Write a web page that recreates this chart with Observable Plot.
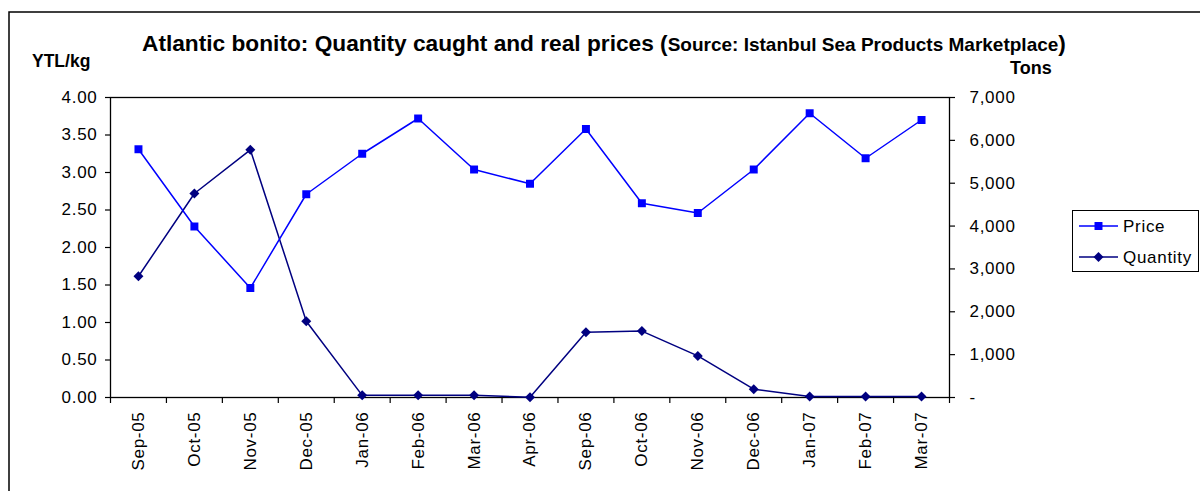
<!DOCTYPE html>
<html><head><meta charset="utf-8">
<script src="https://cdn.jsdelivr.net/npm/d3@7"></script>
<script src="https://cdn.jsdelivr.net/npm/@observablehq/plot@0.6"></script>
<style>body{margin:0;background:#fff} svg{display:block}</style>
</head><body><div id="chart"></div>
<script>
const months = ["Sep-05","Oct-05","Nov-05","Dec-05","Jan-06","Feb-06","Mar-06","Apr-06","Sep-06","Oct-06","Nov-06","Dec-06","Jan-07","Feb-07","Mar-07"];
const price = [3.31,2.28,1.46,2.71,3.25,3.72,3.04,2.85,3.58,2.59,2.46,3.04,3.79,3.19,3.70];
const quantity = [2830,4760,5780,1780,50,50,50,5,1520,1550,970,195,25,25,25];
const priceTicks = [0,0.5,1,1.5,2,2.5,3,3.5,4];
const quantityTicks = [0,1000,2000,3000,4000,5000,6000,7000];
const seriesNames = ["Price","Quantity"];
const titleMain = "Atlantic bonito: Quantity caught and real prices (";
const titleSource = "Source: Istanbul Sea Products Marketplace";
const leftLabel = "YTL/kg";
const rightLabel = "Tons";

const priceMax = 4, quantityMax = 7000;
const k = priceMax / quantityMax;
const priceColor = "#0000FF", qtyColor = "#000080";
const rows = months.map((m, i) => ({m, x: i + 0.5, price: price[i], q: quantity[i] * k}));
const fontFamily = "'Liberation Sans', Arial, sans-serif";

const chart = Plot.plot({
  width: 1200, height: 491,
  marginLeft: 110, marginRight: 251, marginTop: 97, marginBottom: 94,
  style: {fontFamily, fontSize: "17px", letterSpacing: "0.7px", color: "black", background: "white", overflow: "visible"},
  x: {type: "linear", domain: [0, months.length]},
  y: {domain: [0, priceMax]},
  marks: [
    Plot.frame({stroke: "black", strokeWidth: 1.3}),
    Plot.axisY(priceTicks, {anchor: "left", tickSize: 5, tickPadding: 8, tickFormat: d3.format(".2f"), label: null, strokeWidth: 1.2}),
    Plot.axisY(quantityTicks.map(v => v * k), {anchor: "right", tickSize: 5, tickPadding: 15, label: null, strokeWidth: 1.2,
      tickFormat: v => { const t = Math.round(v / k); return t === 0 ? "-" : d3.format(",")(t); }}),
    Plot.axisX(d3.range(months.length + 1), {anchor: "bottom", tickSize: 6, tickFormat: () => "", label: null, strokeWidth: 1.2}),
    Plot.axisX(rows.map(d => d.x), {anchor: "bottom", tickSize: 0, tickPadding: 14, tickRotate: -90,
      tickFormat: v => months[Math.floor(v)], label: null}),
    Plot.line(rows, {x: "x", y: "q", stroke: qtyColor, strokeWidth: 1.5}),
    Plot.dot(rows, {x: "x", y: "q", symbol: "diamond2", r: 4.5, fill: qtyColor, stroke: "none"}),
    Plot.line(rows, {x: "x", y: "price", stroke: priceColor, strokeWidth: 1.5}),
    Plot.dot(rows, {x: "x", y: "price", symbol: "square", r: 4.5, fill: priceColor, stroke: "none"})
  ]
});
document.getElementById("chart").appendChild(chart);

const svg = d3.select(chart);
svg.insert("rect", ":first-child").attr("x", 9).attr("y", 12).attr("width", 1200).attr("height", 500)
  .attr("fill", "none").attr("stroke", "black").attr("stroke-width", 1.5);

const t = svg.append("text").attr("x", 142).attr("y", 51).attr("font-weight", "bold").attr("font-size", 22.7)
  .attr("text-anchor", "start").attr("letter-spacing", 0)
  .attr("fill", "black").attr("font-family", fontFamily);
t.append("tspan").text(titleMain);
t.append("tspan").attr("font-size", 19).text(titleSource);
t.append("tspan").text(")");

svg.append("text").attr("x", 32).attr("y", 67).attr("font-weight", "bold").attr("font-size", 17.5)
  .attr("text-anchor", "start").attr("letter-spacing", 0)
  .attr("font-family", fontFamily).attr("fill", "black").text(leftLabel);
svg.append("text").attr("x", 1010).attr("y", 74).attr("font-weight", "bold").attr("font-size", 18)
  .attr("text-anchor", "start").attr("letter-spacing", 0)
  .attr("font-family", fontFamily).attr("fill", "black").text(rightLabel);

// legend
const lg = svg.append("g").attr("font-family", fontFamily).attr("font-size", 17).attr("text-anchor", "start");
lg.append("rect").attr("x", 1072.5).attr("y", 210.5).attr("width", 126).attr("height", 61)
  .attr("fill", "white").attr("stroke", "black");
const legendItems = [
  {name: seriesNames[0], color: priceColor, sym: d3.symbolSquare, y: 226},
  {name: seriesNames[1], color: qtyColor, sym: d3.symbolDiamond2, y: 257}
];
for (const it of legendItems) {
  lg.append("line").attr("x1", 1079).attr("x2", 1118).attr("y1", it.y).attr("y2", it.y)
    .attr("stroke", it.color).attr("stroke-width", 1.5);
  lg.append("path").attr("transform", `translate(1098.5,${it.y})`)
    .attr("d", d3.symbol(it.sym, Math.PI * 4.5 * 4.5)()).attr("fill", it.color);
  lg.append("text").attr("x", 1123).attr("y", it.y + 6).attr("fill", "black").attr("letter-spacing", 0.7).text(it.name);
}
</script></body></html>
